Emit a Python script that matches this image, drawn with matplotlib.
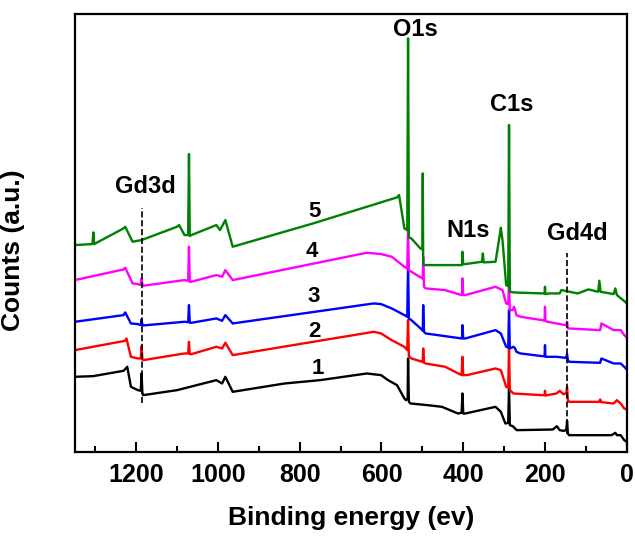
import matplotlib
matplotlib.use("Agg")
import matplotlib.pyplot as plt
from matplotlib.ticker import MultipleLocator

plt.rcParams['font.family'] = ['Liberation Sans', 'DejaVu Sans']
plt.rcParams['font.weight'] = 'bold'

# XPS survey spectra (binding energy in eV, counts in a.u.)
e1 = [1350, 1305, 1231, 1222, 1213, 1196, 1189, 1187, 1185, 1183, 1100, 1004, 990, 982, 964,
      837, 750, 636, 601, 584, 562, 544, 540, 536, 535, 533, 529, 487, 452, 413, 404, 402, 400,
      395, 321, 308, 297, 290, 288, 286, 279, 269, 181, 171, 164, 155, 148, 146, 144, 141, 37,
      28, 24, 15, 6, 0]
c1 = [225, 227, 243, 255, 195, 185, 183, 235, 177, 170, 185, 215, 205, 225, 180,
      205, 215, 235, 230, 215, 200, 160, 155, 160, 280, 150, 145, 140, 135, 115, 117, 175, 115,
      115, 135, 120, 85, 87, 195, 80, 77, 65, 67, 77, 65, 63, 65, 93, 55, 50, 50,
      57, 50, 50, 35, 30]

e2 = [1350, 1227, 1224, 1213, 1196, 1189, 1187, 1185, 1183, 1082, 1073, 1071, 1069, 1065, 1004,
      990, 982, 964, 619, 601, 575, 544, 537, 535, 533, 527, 500, 499, 498, 496, 492, 444, 404,
      402, 400, 391, 321, 308, 295, 290, 288, 286, 277, 207, 201, 200, 199, 194, 172, 164, 155,
      150, 148, 146, 144, 141, 67, 65, 62, 32, 24, 15, 6, 0]
c2 = [305, 333, 340, 285, 280, 280, 317, 277, 275, 295, 295, 330, 293, 293, 315,
      310, 327, 290, 360, 355, 335, 315, 305, 395, 287, 280, 270, 272, 310, 267, 265, 255, 230,
      285, 230, 230, 250, 245, 195, 193, 315, 185, 175, 170, 170, 183, 169, 170, 175, 183, 173,
      175, 175, 195, 155, 150, 150, 157, 149, 145, 155, 145, 130, 127]

e3 = [1350, 1231, 1227, 1213, 1196, 1189, 1187, 1185, 1183, 1082, 1073, 1071, 1069, 1065, 1004,
      990, 982, 964, 619, 601, 575, 544, 537, 535, 533, 527, 500, 499, 498, 496, 492, 404, 403,
      402, 400, 395, 321, 308, 295, 290, 288, 286, 277, 273, 270, 260, 207, 201, 200, 199, 190,
      172, 150, 148, 146, 144, 141, 67, 65, 62, 32, 15, 6, 0]
c3 = [390, 410, 418, 385, 383, 380, 397, 380, 379, 390, 389, 440, 387, 387, 400,
      393, 410, 385, 445, 443, 430, 410, 405, 555, 400, 395, 365, 363, 440, 360, 355, 340, 340,
      380, 340, 340, 365, 355, 315, 313, 425, 310, 315, 310, 300, 295, 287, 287, 320, 285, 285,
      285, 282, 282, 293, 275, 270, 267, 267, 280, 265, 265, 255, 247]

e4 = [1350, 1231, 1227, 1209, 1196, 1189, 1187, 1185, 1183, 1082, 1073, 1071, 1069, 1065, 1004,
      990, 982, 964, 636, 601, 575, 544, 537, 535, 533, 527, 500, 499, 498, 496, 492, 444, 404,
      403, 402, 400, 395, 321, 304, 295, 290, 288, 286, 279, 276, 273, 270, 260, 207, 201, 200,
      199, 194, 150, 148, 146, 144, 141, 67, 65, 62, 32, 15, 6, 0]
c4 = [515, 547, 552, 505, 503, 500, 520, 500, 498, 515, 513, 615, 510, 510, 530,
      525, 545, 515, 597, 593, 585, 555, 550, 665, 545, 540, 520, 519, 585, 495, 490, 485, 470,
      470, 520, 470, 470, 495, 485, 445, 443, 500, 425, 425, 435, 425, 410, 405, 395, 393, 435,
      393, 390, 380, 380, 390, 370, 370, 365, 365, 385, 365, 365, 350, 343]

e5 = [1350, 1307, 1305, 1303, 1231, 1227, 1209, 1187, 1100, 1095, 1082, 1073, 1071, 1069, 1065,
      1004, 995, 982, 964, 767, 562, 557, 544, 537, 535, 533, 527, 505, 500, 499, 498, 496, 492,
      404, 403, 402, 400, 395, 354, 352, 350, 321, 310, 308, 304, 295, 290, 288, 286, 277, 207,
      201, 200, 199, 190, 164, 160, 120, 94, 70, 67, 64, 32, 28, 24, 6, 0]
c5 = [620, 623, 658, 623, 670, 675, 630, 635, 675, 680, 650, 650, 893, 647, 650,
      680, 665, 695, 615, 685, 763, 770, 670, 665, 1240, 643, 640, 610, 607, 835, 565, 560, 560,
      560, 560, 600, 563, 563, 570, 595, 568, 570, 655, 672, 635, 500, 497, 980, 480, 478, 475,
      475, 495, 473, 475, 475, 485, 475, 487, 480, 513, 480, 473, 490, 470, 452, 445]

energies = [e1, e2, e3, e4, e5]
counts = [c1, c2, c3, c4, c5]
colors = ['black', 'red', 'blue', 'magenta', 'green']
curve_labels = ['1', '2', '3', '4', '5']
curve_label_pos = [(756, 250), (763, 360), (766, 465), (770, 600), (765, 720)]

peak_names = ['O1s', 'C1s', 'Gd3d', 'N1s', 'Gd4d']
peak_pos = [(518, 1265), (282, 1040), (1178, 795), (387, 665), (122, 655)]

fig = plt.figure(figsize=(6.35, 5.36), dpi=100)
ax = fig.add_axes([0.118, 0.157, 0.869, 0.817])

for e, c, col in zip(energies, counts, colors):
    ax.plot(e, c, color=col, lw=1.7)

for lab, (x, y) in zip(curve_labels, curve_label_pos):
    ax.text(x, y, lab, fontsize=16, fontweight='bold', ha='center', va='center')

for lab, (x, y) in zip(peak_names, peak_pos):
    ax.text(x, y, lab, fontsize=17, fontweight='bold', ha='center', va='center')

# dashed markers for the Gd lines
ax.plot([1187, 1187], [145, 730], 'k--', lw=1.2)
ax.plot([146, 146], [55, 595], 'k--', lw=1.2)

ax.set_xlim(1350, 0)
ax.set_ylim(0, 1313)
ax.xaxis.set_major_locator(MultipleLocator(200))
ax.xaxis.set_minor_locator(MultipleLocator(100))
ax.tick_params(axis='x', which='major', direction='in', length=7, width=1.5, labelsize=18, pad=8)
ax.tick_params(axis='x', which='minor', direction='in', length=4, width=1.5)
ax.set_yticks([])
for s in ax.spines.values():
    s.set_linewidth(1.6)

ax.set_xlabel('Binding energy (ev)', fontsize=19, fontweight='bold', labelpad=14)
ax.set_ylabel('Counts (a.u.)', fontsize=19, fontweight='bold')
ax.yaxis.set_label_coords(-0.09, 0.46)

fig.savefig('out.png', dpi=100)
